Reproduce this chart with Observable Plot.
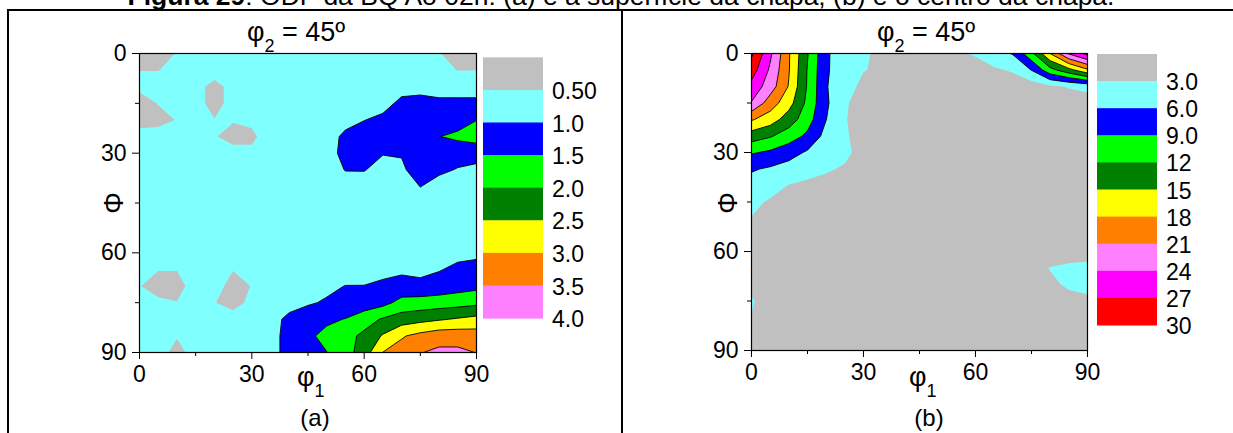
<!DOCTYPE html>
<html><head><meta charset="utf-8">
<script src="https://cdn.jsdelivr.net/npm/d3@7"></script>
<script src="https://cdn.jsdelivr.net/npm/@observablehq/plot@0.6"></script>
<style>
body{margin:0;background:#fff;}
#wrap{position:relative;width:1233px;height:433px;overflow:hidden;background:#fff;font-family:"Liberation Sans",Arial,sans-serif;}
#wrap > svg{position:absolute;}
</style></head><body><div id="wrap"></div>
<script>
// ODF section phi2 = 45deg, values on a 5 degree grid: rows = Phi 0..90, columns = phi1 0..90
const odfSurface = [
  [0.30,0.35,0.52,0.70,0.70,0.70,0.70,0.70,0.70,0.70,0.70,0.70,0.70,0.70,0.70,0.70,0.52,0.35,0.30],
  [0.495,0.49,0.60,0.70,0.65,0.70,0.70,0.70,0.70,0.70,0.70,0.70,0.70,0.70,0.70,0.70,0.60,0.49,0.495],
  [0.60,0.70,0.70,0.60,0.40,0.60,0.70,0.70,0.70,0.70,0.70,0.70,0.70,0.70,0.85,0.90,0.80,0.80,0.80],
  [0.30,0.52,0.70,0.60,0.40,0.60,0.70,0.70,0.70,0.70,0.70,0.70,0.70,0.85,1.10,1.10,1.10,1.10,1.10],
  [0.30,0.35,0.52,0.70,0.51,0.52,0.60,0.70,0.70,0.70,0.70,0.85,0.99,1.10,1.25,1.30,1.35,1.30,1.49],
  [0.70,0.70,0.70,0.70,0.52,0.40,0.40,0.75,0.70,0.70,0.80,1.10,1.20,1.20,1.30,1.40,1.49,1.60,1.80],
  [0.70,0.70,0.70,0.70,0.70,0.60,0.60,0.70,0.70,0.70,0.80,1.15,1.10,1.02,1.02,1.20,1.20,1.20,1.05],
  [0.70,0.70,0.70,0.70,0.70,0.70,0.70,0.70,0.70,0.70,0.75,1.02,1.02,0.85,0.95,1.15,1.10,0.97,0.97],
  [0.70,0.70,0.70,0.70,0.70,0.70,0.70,0.70,0.70,0.70,0.70,0.75,0.80,0.75,0.70,1.01,0.80,0.75,0.75],
  [0.70,0.70,0.70,0.70,0.70,0.70,0.70,0.70,0.70,0.70,0.70,0.70,0.70,0.70,0.70,0.80,0.70,0.70,0.70],
  [0.70,0.70,0.70,0.70,0.70,0.70,0.70,0.70,0.70,0.70,0.70,0.70,0.70,0.70,0.70,0.70,0.70,0.70,0.70],
  [0.70,0.70,0.70,0.70,0.70,0.70,0.70,0.70,0.70,0.70,0.70,0.70,0.70,0.70,0.70,0.70,0.70,0.75,0.75],
  [0.70,0.70,0.70,0.70,0.70,0.70,0.70,0.70,0.70,0.70,0.70,0.70,0.75,0.75,0.75,0.75,0.80,0.87,0.87],
  [0.65,0.51,0.51,0.65,0.70,0.51,0.70,0.70,0.70,0.70,0.75,0.75,0.80,0.85,0.90,0.85,0.97,1.10,1.20],
  [0.51,0.40,0.40,0.62,0.61,0.40,0.51,0.70,0.75,0.80,0.90,1.01,1.01,1.10,1.20,1.15,1.20,1.30,1.37],
  [0.65,0.55,0.51,0.65,0.51,0.40,0.57,0.70,0.85,0.95,1.05,1.12,1.20,1.35,1.65,1.70,1.75,1.80,1.88],
  [0.70,0.70,0.70,0.70,0.65,0.62,0.70,0.85,1.10,1.25,1.40,1.52,1.80,2.05,2.25,2.35,2.45,2.55,2.65],
  [0.70,0.70,0.51,0.70,0.70,0.70,0.70,0.90,1.10,1.40,1.65,1.85,2.10,2.55,2.95,3.15,3.30,3.30,3.25],
  [0.60,0.56,0.45,0.56,0.65,0.70,0.75,0.90,1.10,1.30,1.49,1.80,2.25,3.01,3.20,3.48,3.60,3.60,3.49]
];
const odfCenter = [
  [30.5,24.6,18.3,12.2,6.5,4.0,3.3,2.5,2.3,2.3,2.3,2.7,3.2,4.77,6.2,11.2,18.05,24.3,27.8],
  [28.5,23.5,18.2,11.8,6.4,4.2,3.1,2.6,2.3,2.3,2.3,2.3,2.2,2.6,3.3,6.1,11.0,14.0,17.5],
  [26.0,22.5,17.8,11.7,6.2,4.0,2.4,2.3,2.3,2.3,2.3,2.3,2.3,2.0,1.5,1.5,2.5,3.2,3.8],
  [23.8,19.5,16.2,11.2,6.5,3.2,2.3,2.3,2.3,2.3,2.3,2.3,2.3,2.3,2.3,2.3,2.0,1.5,1.5],
  [18.3,16.5,13.5,10.3,6.05,3.1,2.3,2.3,2.3,2.3,2.3,2.3,2.3,2.3,2.3,2.3,2.3,2.3,2.3],
  [13.5,12.3,10.5,8.4,5.0,3.15,2.5,2.3,2.3,2.3,2.3,2.3,2.3,2.3,2.3,2.3,2.3,2.3,2.3],
  [9.3,8.5,7.2,5.6,4.4,3.3,2.5,2.3,2.3,2.3,2.3,2.3,2.3,2.3,2.3,2.3,2.3,2.3,2.3],
  [6.3,5.6,4.8,3.9,3.15,2.85,2.4,2.3,2.3,2.3,2.3,2.3,2.3,2.3,2.3,2.3,2.3,2.3,2.3],
  [4.8,4.0,2.9,2.5,2.6,2.5,2.3,2.3,2.3,2.3,2.3,2.3,2.3,2.3,2.3,2.3,2.3,2.3,2.3],
  [3.6,2.7,2.5,2.3,2.3,2.3,2.3,2.3,2.3,2.3,2.3,2.3,2.3,2.3,2.3,2.3,2.3,2.3,2.3],
  [2.9,2.5,2.3,2.3,2.3,2.3,2.3,2.3,2.3,2.3,2.3,2.3,2.3,2.3,2.3,2.3,2.3,2.3,2.3],
  [2.3,2.3,2.3,2.3,2.3,2.3,2.3,2.3,2.3,2.3,2.3,2.3,2.3,2.3,2.3,2.3,2.3,2.3,2.3],
  [2.3,2.3,2.3,2.3,2.3,2.3,2.3,2.3,2.3,2.3,2.3,2.3,2.3,2.3,2.3,2.3,2.3,2.0,2.0],
  [2.3,2.3,2.3,2.3,2.3,2.3,2.3,2.3,2.3,2.3,2.3,2.3,2.3,2.3,2.3,2.6,3.05,3.4,3.6],
  [2.5,2.3,2.3,2.3,2.3,2.3,2.3,2.3,2.3,2.3,2.3,2.3,2.3,2.3,2.3,2.3,2.8,3.15,3.3],
  [3.15,2.3,2.3,2.3,2.3,2.3,2.3,2.3,2.3,2.3,2.3,2.3,2.3,2.3,2.3,2.3,2.5,2.7,2.8],
  [2.95,2.3,2.3,2.3,2.3,2.3,2.3,2.3,2.3,2.3,2.3,2.3,2.3,2.3,2.3,2.3,2.3,2.3,2.3],
  [2.3,2.3,2.3,2.3,2.3,2.3,2.3,2.3,2.3,2.3,2.3,2.3,2.3,2.3,2.3,2.3,2.3,2.3,2.3],
  [2.3,2.3,2.3,2.3,2.3,2.3,2.3,2.3,2.3,2.3,2.3,2.3,2.3,2.3,2.3,2.3,2.3,2.3,2.3]
];
const levelsA = [0, 0.5, 1, 1.5, 2, 2.5, 3, 3.5, 4];
const lineLevelsA = [1, 1.5, 2, 2.5, 3, 3.5, 4];
const colorsA = ["#c0c0c0","#80ffff","#0000ff","#00ff00","#008000","#ffff00","#ff8000","#ff80ff","#ff00ff"];
const legendLabelsA = ["0.50","1.0","1.5","2.0","2.5","3.0","3.5","4.0"];
const levelsB = [0, 3, 6, 9, 12, 15, 18, 21, 24, 27, 30];
const lineLevelsB = [6, 9, 12, 15, 18, 21, 24, 27, 30];
const colorsB = ["#c0c0c0","#80ffff","#0000ff","#00ff00","#008000","#ffff00","#ff8000","#ff80ff","#ff00ff","#ff0000","#ff0000"];
const legendLabelsB = ["3.0","6.0","9.0","12","15","18","21","24","27","30"];
const majorTicks = [0, 30, 60, 90];
const minorTicks = [15, 45, 75];
const panelTitle = "45º";
const captionText = ": ODF da BQ Ao 02h: (a) é a superfície da chapa; (b) é o centro da chapa.";

const FONT = "'Liberation Sans', Arial, sans-serif";

function panel(rows, levels, lines, colors, m) {
  const values = rows.flat();
  const n = rows[0].length, step = 90 / (n - 1);
  const ext = {width: n, height: rows.length, x1: -step/2, x2: 90 + step/2, y1: -step/2, y2: 90 + step/2};
  return Plot.plot({
    width: m.w, height: 433,
    marginLeft: m.l, marginRight: m.r, marginTop: m.t, marginBottom: m.b,
    style: {background: "transparent", fontFamily: FONT, fontSize: "22px", color: "black", overflow: "visible"},
    x: {domain: [0, 90]},
    y: {domain: [0, 90], reverse: true},
    color: {type: "threshold", domain: levels.slice(1), range: colors},
    marks: [
      Plot.frame({fill: colors[0]}),
      Plot.contour(values, {...ext, fill: Plot.identity, thresholds: levels, clip: true}),
      Plot.contour(values, {...ext, value: Plot.identity, thresholds: lines, fill: "none", stroke: "black", strokeWidth: 0.9, clip: true}),
      Plot.frame({stroke: "black", strokeWidth: 1.2}),
      Plot.axisX({ticks: majorTicks, tickSize: 7, tickPadding: 6, label: null, fontSize: 23}),
      Plot.axisX({ticks: minorTicks, tickSize: 4, tickFormat: () => "", label: null}),
      Plot.axisY({ticks: majorTicks, tickSize: 7, tickPadding: 6, label: null, fontSize: 23}),
      Plot.axisY({ticks: minorTicks, tickSize: 4, tickFormat: () => "", label: null})
    ]
  });
}

const wrap = document.getElementById("wrap");
const pa = panel(odfSurface, levelsA, lineLevelsA, colorsA, {w: 620, l: 139, r: 144, t: 53, b: 81});
pa.style.left = "0px"; pa.style.top = "0px";
wrap.appendChild(pa);
const pb = panel(odfCenter, levelsB, lineLevelsB, colorsB, {w: 609, l: 127, r: 146, t: 53, b: 83});
pb.style.left = "624px"; pb.style.top = "0px";
wrap.appendChild(pb);

// overlay: frame lines, caption, titles, axis labels, legends
const ov = d3.select(wrap).append("svg").attr("width", 1233).attr("height", 433)
  .style("left", "0px").style("top", "0px").style("font-family", FONT);
ov.append("rect").attr("x", 7).attr("y", 9).attr("width", 1226).attr("height", 2).attr("fill", "black");
ov.append("rect").attr("x", 7).attr("y", 9).attr("width", 2).attr("height", 424).attr("fill", "black");
ov.append("rect").attr("x", 621).attr("y", 9).attr("width", 2).attr("height", 424).attr("fill", "black");

const cap = ov.append("text").attr("x", 621).attr("y", 5).attr("text-anchor", "middle").attr("font-size", 26.5);
cap.append("tspan").attr("font-weight", "bold").text("Figura 29");
cap.append("tspan").text(captionText);

function labels(cfg) {
  const t = ov.append("text").attr("x", cfg.tx).attr("y", 41).attr("font-size", 27);
  t.append("tspan").text("φ");
  t.append("tspan").attr("font-size", 18).attr("dy", 11).text("2");
  t.append("tspan").attr("dy", -11).text(" = " + panelTitle);
  ov.append("text").attr("transform", `translate(${cfg.yx},203) rotate(-90)`).attr("text-anchor", "middle")
    .attr("dy", "0.36em").attr("font-size", 27).text("Φ");
  const xl = ov.append("text").attr("x", cfg.xx).attr("y", 386).attr("font-size", 27);
  xl.append("tspan").text("φ");
  xl.append("tspan").attr("font-size", 18).attr("dy", 11).text("1");
  ov.append("text").attr("x", cfg.px).attr("y", 426).attr("text-anchor", "middle").attr("font-size", 24).text(cfg.panel);
  const lg = ov.append("g");
  cfg.legend.forEach((lab, i) => {
    lg.append("rect").attr("x", cfg.lx).attr("y", cfg.ly + i * cfg.lh).attr("width", 60).attr("height", cfg.lh + 0.5)
      .attr("fill", cfg.colors[i]);
    lg.append("text").attr("x", cfg.lx + 69).attr("y", cfg.ly + (i + 1) * cfg.lh + 1).attr("dy", "0.35em")
      .attr("font-size", 23).text(lab);
  });
}
labels({tx: 247, yx: 113, xx: 297, px: 315, panel: "(a)", legend: legendLabelsA, colors: colorsA, lx: 483, ly: 57.3, lh: 32.6});
labels({tx: 877, yx: 727, xx: 909, px: 929, panel: "(b)", legend: legendLabelsB, colors: colorsB, lx: 1097, ly: 54, lh: 27.1});
</script></body></html>
